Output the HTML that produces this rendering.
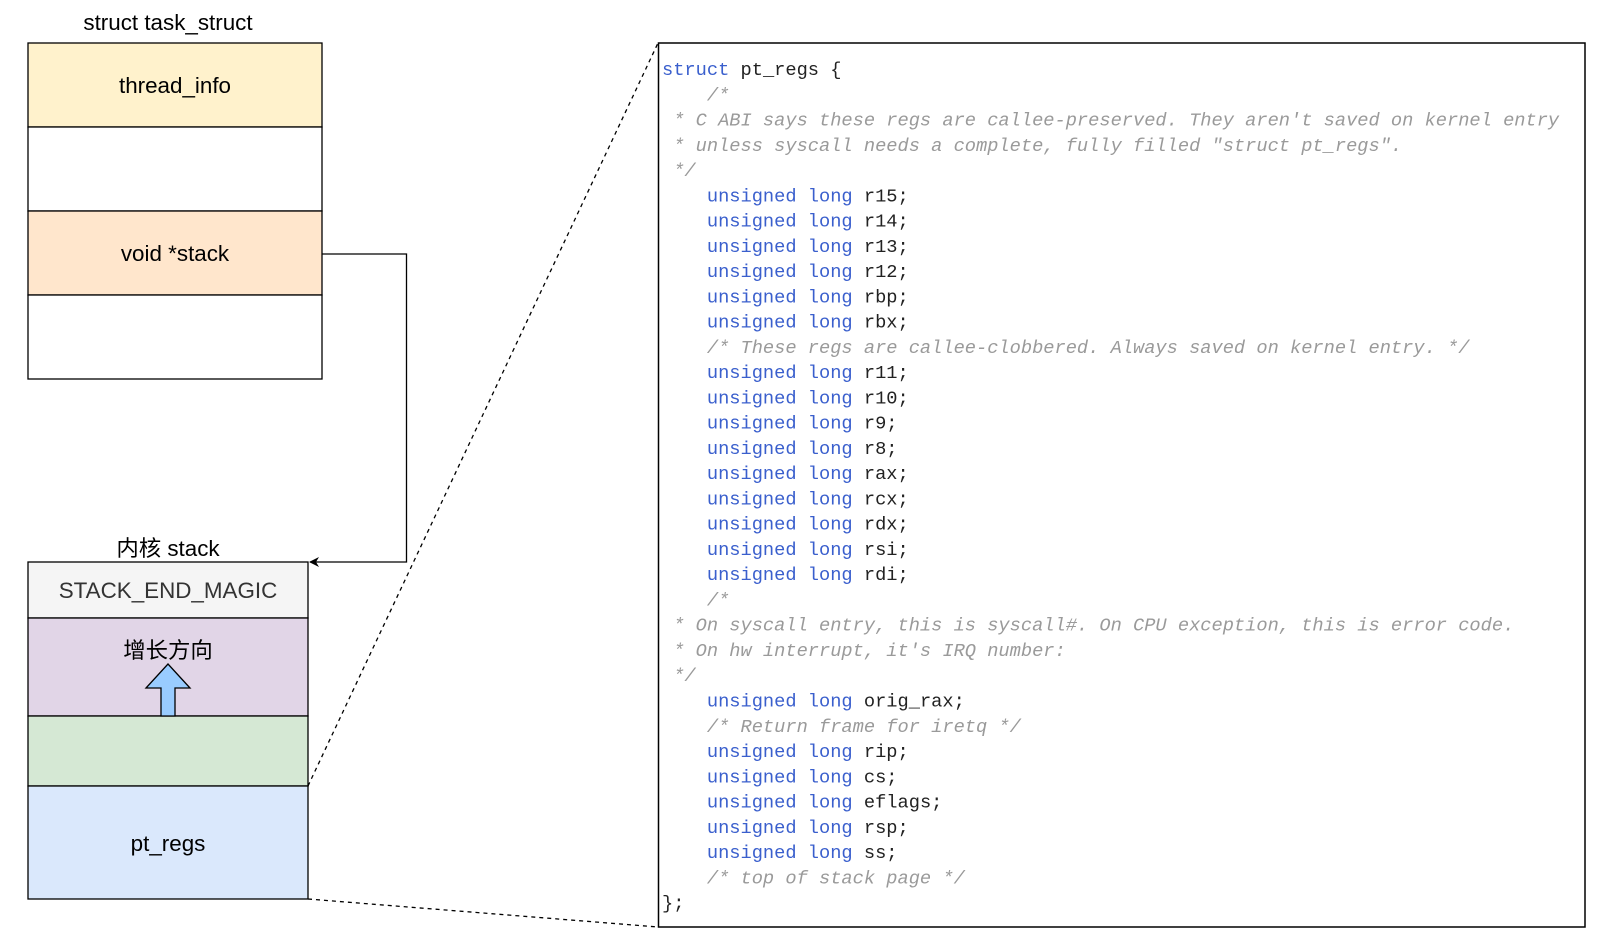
<!DOCTYPE html>
<html><head><meta charset="utf-8"><style>
html,body{margin:0;padding:0;background:#fff;}
svg{display:block;}
.lbl{font-family:"Liberation Sans","Noto Sans CJK SC",sans-serif;font-size:22.4px;fill:#000;}
.code text{font-family:"Liberation Mono",monospace;font-size:18.7px;fill:#222;white-space:pre;}
.code tspan.k,.k{fill:#3a5fcd;}
.code text.c{fill:#9a9a9a;font-style:italic;}
</style></head><body>
<svg width="1606" height="948" viewBox="0 0 1606 948" xmlns="http://www.w3.org/2000/svg">
<defs><marker id="ah" markerWidth="10" markerHeight="10" refX="9" refY="5" orient="auto" markerUnits="userSpaceOnUse"><path d="M0,0 L10,5 L0,10 L3,5 z" fill="#000"/></marker></defs>
<text class="lbl" x="168" y="30" text-anchor="middle">struct task_struct</text>
<rect x="28" y="43" width="294" height="84" fill="#fff2cc" stroke="#000" stroke-width="1.3"/>
<rect x="28" y="127" width="294" height="84" fill="#fff" stroke="#000" stroke-width="1.3"/>
<rect x="28" y="211" width="294" height="84" fill="#ffe6cc" stroke="#000" stroke-width="1.3"/>
<rect x="28" y="295" width="294" height="84" fill="#fff" stroke="#000" stroke-width="1.3"/>
<text class="lbl" x="175" y="93" text-anchor="middle">thread_info</text>
<text class="lbl" x="175" y="261" text-anchor="middle">void *stack</text>
<polyline points="322,254 406.5,254 406.5,562 310,562" fill="none" stroke="#000" stroke-width="1.3" marker-end="url(#ah)"/>
<text class="lbl" x="168" y="556" text-anchor="middle">内核 stack</text>
<rect x="28" y="562" width="280" height="56" fill="#f5f5f5" stroke="#000" stroke-width="1.3"/>
<rect x="28" y="618" width="280" height="98" fill="#e1d5e7" stroke="#000" stroke-width="1.3"/>
<rect x="28" y="716" width="280" height="70" fill="#d5e8d4" stroke="#000" stroke-width="1.3"/>
<rect x="28" y="786" width="280" height="113" fill="#dae8fc" stroke="#000" stroke-width="1.3"/>
<text class="lbl" x="168" y="598" text-anchor="middle" style="fill:#333">STACK_END_MAGIC</text>
<text class="lbl" x="168" y="658" text-anchor="middle">增长方向</text>
<path d="M161,716 L161,688 L146,688 L168,664 L190,688 L175,688 L175,716 z" fill="#99ccff" stroke="#000" stroke-width="1.3"/>
<text class="lbl" x="168" y="851" text-anchor="middle">pt_regs</text>
<line x1="308" y1="786" x2="658" y2="43" stroke="#000" stroke-width="1.3" stroke-dasharray="4,4"/>
<line x1="308" y1="899" x2="658" y2="927" stroke="#000" stroke-width="1.3" stroke-dasharray="4,4"/>
<rect x="658.5" y="43" width="926.5" height="884" fill="#fff" stroke="#000" stroke-width="1.5"/>
<g class="code">
<text x="662" y="75"><tspan class="k">struct</tspan> pt_regs {</text>
<text x="662" y="100.3" class="c">    /*</text>
<text x="662" y="125.5" class="c"> * C ABI says these regs are callee-preserved. They aren't saved on kernel entry</text>
<text x="662" y="150.8" class="c"> * unless syscall needs a complete, fully filled "struct pt_regs".</text>
<text x="662" y="176" class="c"> */</text>
<text x="662" y="201.3">    <tspan class="k">unsigned long</tspan> r15;</text>
<text x="662" y="226.6">    <tspan class="k">unsigned long</tspan> r14;</text>
<text x="662" y="251.8">    <tspan class="k">unsigned long</tspan> r13;</text>
<text x="662" y="277.1">    <tspan class="k">unsigned long</tspan> r12;</text>
<text x="662" y="302.3">    <tspan class="k">unsigned long</tspan> rbp;</text>
<text x="662" y="327.6">    <tspan class="k">unsigned long</tspan> rbx;</text>
<text x="662" y="352.9" class="c">    /* These regs are callee-clobbered. Always saved on kernel entry. */</text>
<text x="662" y="378.1">    <tspan class="k">unsigned long</tspan> r11;</text>
<text x="662" y="403.4">    <tspan class="k">unsigned long</tspan> r10;</text>
<text x="662" y="428.6">    <tspan class="k">unsigned long</tspan> r9;</text>
<text x="662" y="453.9">    <tspan class="k">unsigned long</tspan> r8;</text>
<text x="662" y="479.2">    <tspan class="k">unsigned long</tspan> rax;</text>
<text x="662" y="504.4">    <tspan class="k">unsigned long</tspan> rcx;</text>
<text x="662" y="529.7">    <tspan class="k">unsigned long</tspan> rdx;</text>
<text x="662" y="554.9">    <tspan class="k">unsigned long</tspan> rsi;</text>
<text x="662" y="580.2">    <tspan class="k">unsigned long</tspan> rdi;</text>
<text x="662" y="605.5" class="c">    /*</text>
<text x="662" y="630.7" class="c"> * On syscall entry, this is syscall#. On CPU exception, this is error code.</text>
<text x="662" y="656" class="c"> * On hw interrupt, it's IRQ number:</text>
<text x="662" y="681.2" class="c"> */</text>
<text x="662" y="706.5">    <tspan class="k">unsigned long</tspan> orig_rax;</text>
<text x="662" y="731.8" class="c">    /* Return frame for iretq */</text>
<text x="662" y="757">    <tspan class="k">unsigned long</tspan> rip;</text>
<text x="662" y="782.3">    <tspan class="k">unsigned long</tspan> cs;</text>
<text x="662" y="807.5">    <tspan class="k">unsigned long</tspan> eflags;</text>
<text x="662" y="832.8">    <tspan class="k">unsigned long</tspan> rsp;</text>
<text x="662" y="858.1">    <tspan class="k">unsigned long</tspan> ss;</text>
<text x="662" y="883.3" class="c">    /* top of stack page */</text>
<text x="662" y="908.6">};</text>
</g>
</svg>
</body></html>
